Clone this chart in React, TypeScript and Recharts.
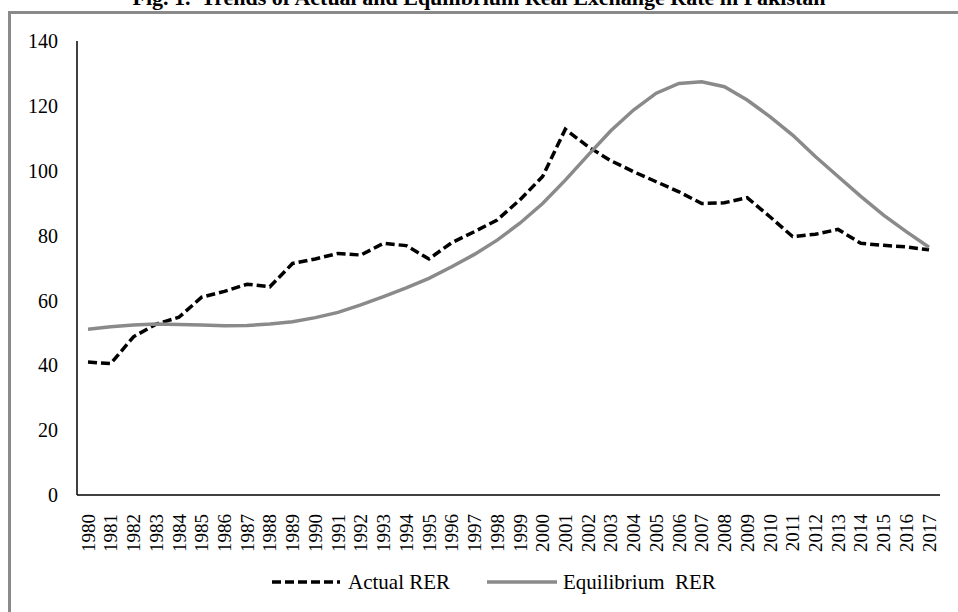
import { Legend, Line, LineChart, XAxis, YAxis } from "recharts";

const years = [
  "1980", "1981", "1982", "1983", "1984", "1985", "1986", "1987", "1988", "1989",
  "1990", "1991", "1992", "1993", "1994", "1995", "1996", "1997", "1998", "1999",
  "2000", "2001", "2002", "2003", "2004", "2005", "2006", "2007", "2008", "2009",
  "2010", "2011", "2012", "2013", "2014", "2015", "2016", "2017",
];

const actualRer = [
  41.0, 40.5, 48.8, 52.7, 54.8, 61.0, 62.8, 65.0, 64.2, 71.4,
  72.8, 74.5, 74.0, 77.6, 76.9, 72.8, 77.8, 81.2, 84.8, 91.0,
  98.2, 112.8, 107.4, 103.1, 99.7, 96.6, 93.5, 89.9, 90.1, 91.7,
  85.8, 79.7, 80.4, 81.9, 77.6, 77.0, 76.5, 75.6,
];

const equilibriumRer = [
  51.1, 51.9, 52.4, 52.7, 52.6, 52.4, 52.2, 52.3, 52.7, 53.4,
  54.7, 56.3, 58.6, 61.2, 63.9, 66.8, 70.4, 74.2, 78.6, 83.8,
  89.9, 97.1, 104.8, 112.3, 118.7, 123.9, 126.9, 127.4, 125.9, 121.8,
  116.7, 111.0, 104.4, 98.2, 92.1, 86.3, 81.2, 76.4,
];

const yTicks = [0, 20, 40, 60, 80, 100, 120, 140];

const data = years.map((y, i) => ({ year: y, actual: actualRer[i], equilibrium: equilibriumRer[i] }));

const FONT = "'Liberation Serif', 'Times New Roman', serif";
const GRAY = "#8a8a8a";

function YearTick(props: any) {
  const { x, y, payload } = props;
  return (
    <text
      x={x}
      y={y + 11}
      dy="0.35em"
      textAnchor="end"
      transform={`rotate(-90, ${x}, ${y + 11})`}
      fontFamily={FONT}
      fontSize={19}
      fill="#000"
    >
      {payload.value}
    </text>
  );
}

function LegendBox() {
  return (
    <div style={{ position: "relative", height: 26, fontFamily: FONT, fontSize: 21, color: "#000" }}>
      <svg style={{ position: "absolute", left: 272, top: 5 }} width={70} height={16}>
        <line x1={0} y1={8} x2={68} y2={8} stroke="#000" strokeWidth={3.5} strokeDasharray="9 4" />
      </svg>
      <span style={{ position: "absolute", left: 348, top: 0, lineHeight: "26px", whiteSpace: "pre" }}>Actual RER</span>
      <svg style={{ position: "absolute", left: 487, top: 5 }} width={72} height={16}>
        <line x1={0} y1={8} x2={70} y2={8} stroke={GRAY} strokeWidth={3.5} />
      </svg>
      <span style={{ position: "absolute", left: 563, top: 0, lineHeight: "26px", whiteSpace: "pre" }}>Equilibrium  RER</span>
    </div>
  );
}

export default function App() {
  return (
    <div style={{ position: "fixed", left: 0, top: 0, width: 958, height: 612, overflow: "hidden", background: "#fff" }}>
      {/* title is cropped at the top edge, as in the source figure */}
      <div
        style={{
          position: "absolute",
          left: 0,
          top: -12,
          width: 958,
          textAlign: "center",
          fontFamily: FONT,
          fontWeight: "bold",
          fontSize: 22,
          lineHeight: "20px",
          whiteSpace: "pre",
        }}
      >
        {"Fig. 1.  Trends of Actual and Equilibrium Real Exchange Rate in Pakistan"}
      </div>
      <div
        style={{
          position: "absolute",
          left: 8,
          top: 11,
          width: 970,
          height: 620,
          borderTop: `3px solid ${GRAY}`,
          borderLeft: `3px solid ${GRAY}`,
        }}
      />
      <div style={{ position: "absolute", left: 0, top: 0 }}>
        <LineChart width={958} height={612} data={data} margin={{ top: 41, right: 18, left: 0, bottom: 17 }}>
          <XAxis
            dataKey="year"
            interval={0}
            height={74}
            padding={{ left: 11, right: 11 }}
            axisLine={{ stroke: "#000", strokeWidth: 1.5 }}
            tickLine={false}
            tick={<YearTick />}
          />
          <YAxis
            domain={[0, 140]}
            ticks={yTicks}
            width={77}
            axisLine={{ stroke: "#000", strokeWidth: 1.5 }}
            tickLine={false}
            tickSize={0}
            tickMargin={19}
            tick={{ fontFamily: FONT, fontSize: 20, fill: "#000" }}
          />
          <Legend verticalAlign="bottom" content={<LegendBox />} wrapperStyle={{ left: 0, width: 958 }} />
          <Line
            type="linear"
            dataKey="actual"
            stroke="#000"
            strokeWidth={3.5}
            strokeDasharray="9 4"
            dot={false}
            isAnimationActive={false}
          />
          <Line
            type="linear"
            dataKey="equilibrium"
            stroke={GRAY}
            strokeWidth={3.5}
            dot={false}
            isAnimationActive={false}
          />
        </LineChart>
      </div>
    </div>
  );
}
